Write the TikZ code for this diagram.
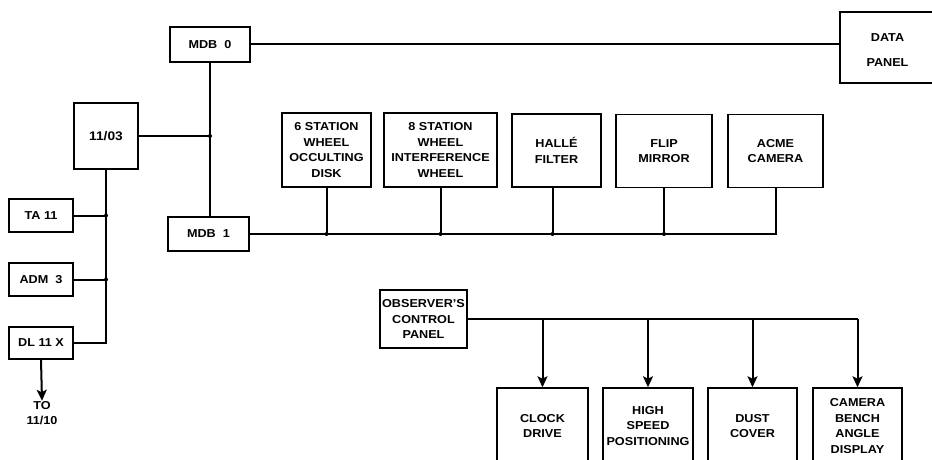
\documentclass[tikz,border=0pt]{standalone}
\usepackage{fontspec}
\setmainfont{Liberation Sans}[BoldFont={* Bold},BoldFeatures={FakeStretch=1.1}]
\usetikzlibrary{arrows.meta}
\tikzset{
  blk/.style={draw,line width=1.5pt,align=center,inner sep=0pt,font=\fontsize{11.5}{15.8}\selectfont\bfseries},
  wire/.style={line width=2pt},
  arr/.style={line width=2pt,-{Stealth[length=11pt,width=10pt,inset=2.5pt]}},
  lbl/.style={align=center,inner sep=0pt,font=\fontsize{11.5}{15.8}\selectfont\bfseries},
  jdot/.style={circle,fill,inner sep=0pt,minimum size=4pt}
}
\begin{document}
\begin{tikzpicture}[x=1pt,y=-1pt]
\useasboundingbox (0,0) rectangle (932,460);
% top row
\node[blk,minimum width=80pt,minimum height=35pt] (mdb0) at (210,44.5) {MDB\ \ 0};
\node[blk,minimum width=95pt,minimum height=71pt,font=\fontsize{11.5}{25}\selectfont\bfseries] (data) at (887.5,47.5) {\raisebox{-6pt}[0pt][0pt]{\parbox{95pt}{\centering DATA\\PANEL}}};
\node[blk,minimum width=64pt,minimum height=66pt,font=\fontsize{12.5}{15.8}\selectfont\bfseries] (cpu) at (106,136) {11/03};
\node[blk,minimum width=64pt,minimum height=33pt] (ta) at (41,215.5) {TA 11};
\node[blk,minimum width=64pt,minimum height=33pt] (adm) at (41,279.5) {ADM\ \ 3};
\node[blk,minimum width=64pt,minimum height=32pt] (dl) at (41,343) {DL 11 X};
\node[lbl] (to) at (42,413) {TO\\11/10};
\node[blk,minimum width=81pt,minimum height=34pt] (mdb1) at (208.5,234) {MDB\ \ 1};
% device row
\node[blk,minimum width=89pt,minimum height=74pt] (six) at (326.5,150) {6 STATION\\WHEEL\\OCCULTING\\DISK};
\node[blk,minimum width=113pt,minimum height=74pt] (eight) at (440.5,150) {8 STATION\\WHEEL\\INTERFERENCE\\WHEEL};
\node[blk,minimum width=89pt,minimum height=73pt] (halle) at (556.5,150.5) {HALL\'E\\FILTER};
\node[blk,minimum width=96pt,minimum height=73pt] (flip) at (664,151) {FLIP\\MIRROR};
\node[blk,minimum width=95pt,minimum height=73pt] (acme) at (775.5,151) {ACME\\CAMERA};
% observer panel
\node[blk,minimum width=87pt,minimum height=58pt] (ocp) at (423.5,319) {OBSERVER'S\\CONTROL\\PANEL};
\node[blk,minimum width=91pt,minimum height=76pt] (clock) at (542.5,426) {CLOCK\\DRIVE};
\node[blk,minimum width=90pt,minimum height=76pt] (high) at (648,426) {HIGH\\SPEED\\POSITIONING};
\node[blk,minimum width=89pt,minimum height=76pt] (dust) at (752.5,426) {DUST\\COVER};
\node[blk,minimum width=89pt,minimum height=76pt] (bench) at (857.5,426) {CAMERA\\BENCH\\ANGLE\\DISPLAY};
% connectors
\draw[wire] (mdb0.east) -- (mdb0.east -| data.west);
\draw[wire] (mdb0.south) -- (mdb0.south |- mdb1.north);
\draw[wire] (cpu.east) -- (cpu.east -| mdb0.south) node[jdot] {};
\draw[wire] (cpu.south) |- (dl.east);
\draw[wire] (ta.east) -- (ta.east -| cpu.south) node[jdot] {};
\draw[wire] (adm.east) -- (adm.east -| cpu.south) node[jdot] {};
\draw[arr] (dl.south) -- (to.north);
\draw[wire] (mdb1.east) -| (acme.south);
\draw[wire] (six.south) -- (six.south |- mdb1.east) node[jdot] {};
\draw[wire] (eight.south) -- (eight.south |- mdb1.east) node[jdot] {};
\draw[wire] ([xshift=-4pt]halle.south) -- ([xshift=-4pt]halle.south |- mdb1.east) node[jdot] {};
\draw[wire] (flip.south) -- (flip.south |- mdb1.east) node[jdot] {};
\draw[wire] (ocp.east) -- (ocp.east -| bench.north);
\draw[arr] (ocp.east -| clock.north) -- (clock.north);
\draw[arr] (ocp.east -| high.north) -- (high.north);
\draw[arr] (ocp.east -| dust.north) -- (dust.north);
\draw[arr] (ocp.east -| bench.north) -- (bench.north);
\end{tikzpicture}
\end{document}
